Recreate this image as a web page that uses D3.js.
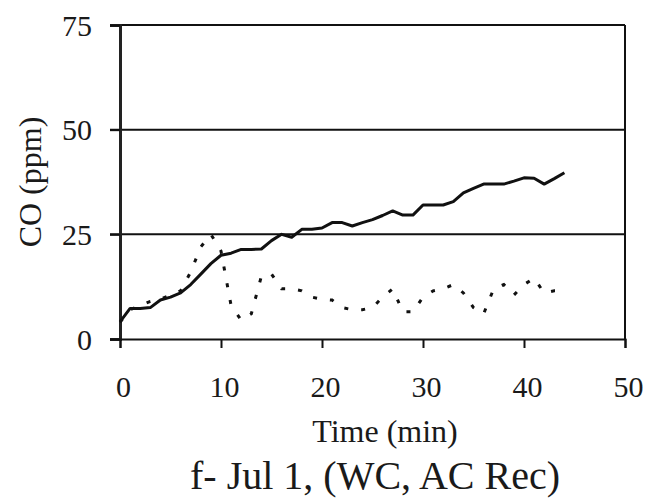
<!DOCTYPE html>
<html>
<head>
<meta charset="utf-8">
<script src="https://cdn.jsdelivr.net/npm/d3@7"></script>
<style>
  html, body { margin: 0; padding: 0; background: #fff; }
  svg { display: block; }
  text { font-family: "Liberation Serif", "Times New Roman", serif; fill: #1a1a1a; }
</style>
</head>
<body>
<svg id="chart" width="645" height="499"></svg>
<script>
// ---- data ----
const times = d3.range(0, 45); // minutes 0..44
const solidCO = [4.1, 7.3, 7.3, 7.5, 9.3, 10, 11, 13, 15.5, 18,
                 20, 20.5, 21.4, 21.4, 21.5, 23.5, 25, 24.3, 26.2, 26.2,
                 26.5, 27.8, 27.8, 27.0, 27.8, 28.5, 29.5, 30.6, 29.6, 29.6,
                 32, 32, 32, 32.8, 34.9, 36, 37, 37, 37, 37.7,
                 38.5, 38.4, 37, 38.3, 39.7];
const dashedCO = [4, 7, 8, 9, 9.5, 10.5, 11.5, 16, 22, 25,
                  21, 8, 4.5, 6, 15, 15.5, 12, 12, 11.5, 10,
                  9.5, 9.3, 7.5, 7, 7, 7.5, 10, 12, 6.5, 6.5,
                  10, 11.5, 12, 13, 11, 7.5, 6, 12, 13, 10.5,
                  13, 14.5, 11, 11.5, 11.5];
const xTicks = [0, 10, 20, 30, 40, 50];
const yTicks = [0, 25, 50, 75];
const xLabel = "Time (min)";
const yLabel = "CO (ppm)";
const title = "f- Jul 1, (WC, AC Rec)";

// ---- layout ----
const svg = d3.select("#chart");
const x = d3.scaleLinear().domain([0, 50]).range([120, 625]);
const y = d3.scaleLinear().domain([0, 75]).range([339, 25]);

// horizontal gridlines (with left tick stubs)
svg.append("g").selectAll("line").data(yTicks.filter(d => d > 0)).join("line")
  .attr("x1", x(0) - 10).attr("x2", x(50))
  .attr("y1", d => y(d)).attr("y2", d => y(d))
  .attr("stroke", "#111").attr("stroke-width", 2);

// y axis
const yAxis = d3.axisLeft(y).tickValues(yTicks).tickSize(10).tickPadding(18).tickFormat(d3.format("d"));
const gy = svg.append("g").attr("transform", `translate(${x(0)},0)`).call(yAxis);
gy.select(".domain").attr("stroke", "#222").attr("stroke-width", 3);
gy.selectAll(".tick line").attr("stroke", "#111").attr("stroke-width", 2);
gy.selectAll(".tick text").attr("font-size", 30).attr("fill", "#1a1a1a")
  .attr("font-family", "Liberation Serif, serif").attr("dy", "0.34em");

// x axis
const xAxis = d3.axisBottom(x).tickValues(xTicks).tickSize(9).tickPadding(28).tickFormat(d3.format("d"));
const gx = svg.append("g").attr("transform", `translate(0,${y(0)})`).call(xAxis);
gx.select(".domain").attr("stroke", "#111").attr("stroke-width", 2);
gx.selectAll(".tick line").attr("stroke", "#111").attr("stroke-width", 2);
gx.selectAll(".tick text").attr("font-size", 30).attr("fill", "#1a1a1a")
  .attr("font-family", "Liberation Serif, serif").attr("dx", "3");

// right border
svg.append("line")
  .attr("x1", x(50)).attr("x2", x(50)).attr("y1", y(75)).attr("y2", y(0))
  .attr("stroke", "#111").attr("stroke-width", 2);

// lines
const line = d3.line().x((d, i) => x(times[i])).y(d => y(d));
svg.append("path").datum(dashedCO)
  .attr("d", line).attr("fill", "none").attr("stroke", "#111")
  .attr("stroke-width", 3).attr("stroke-dasharray", "4,13");
svg.append("path").datum(solidCO)
  .attr("d", line).attr("fill", "none").attr("stroke", "#111")
  .attr("stroke-width", 3).attr("stroke-linejoin", "round");

// axis titles
svg.append("text").attr("x", 385).attr("y", 442).attr("text-anchor", "middle")
  .attr("font-size", 32).text(xLabel);
svg.append("text").attr("transform", "translate(41,182) rotate(-90)")
  .attr("text-anchor", "middle").attr("font-size", 32).text(yLabel);
svg.append("text").attr("x", 375).attr("y", 489).attr("text-anchor", "middle")
  .attr("font-size", 40).text(title);
</script>
</body>
</html>
